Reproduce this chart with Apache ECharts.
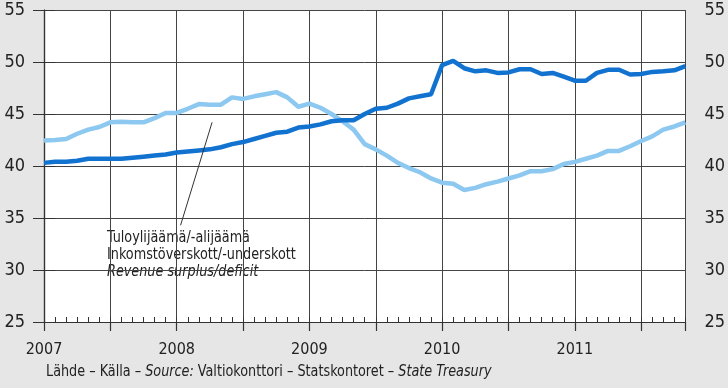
<!DOCTYPE html>
<html><head><meta charset="utf-8">
<script src="https://cdn.jsdelivr.net/npm/echarts@6/dist/echarts.min.js"></script>
<style>html,body{margin:0;padding:0;background:#e6e6e6;}#c{width:728px;height:388px;}</style>
</head><body><div id="c"></div>
<script>
// Month index 0 = Jan 2007 ... 58 = Nov 2011
const yearLabels = ["2007","2008","2009","2010","2011"];
const yTicks = [25,30,35,40,45,50,55];
const revenue = [40.3,40.4,40.4,40.5,40.7,40.7,40.7,40.7,40.8,40.9,41.0,41.1,
  41.3,41.4,41.5,41.6,41.8,42.1,42.3,42.6,42.9,43.2,43.3,43.7,
  43.8,44.0,44.3,44.4,44.4,45.0,45.5,45.6,46.0,46.5,46.7,46.9,
  49.7,50.1,49.4,49.1,49.2,48.95,49.0,49.3,49.3,48.85,48.95,48.6,
  48.2,48.2,48.95,49.25,49.25,48.8,48.85,49.05,49.1,49.2,49.6];
const expenditure = [42.45,42.5,42.6,43.1,43.5,43.75,44.2,44.25,44.2,44.2,44.6,45.1,
  45.1,45.5,45.95,45.9,45.9,46.6,46.45,46.7,46.9,47.1,46.6,45.7,
  46.0,45.6,45.0,44.3,43.5,42.1,41.6,41.0,40.3,39.8,39.4,38.8,
  38.4,38.3,37.7,37.9,38.25,38.5,38.8,39.1,39.5,39.5,39.7,40.2,
  40.4,40.7,41.0,41.45,41.45,41.9,42.4,42.85,43.5,43.8,44.2];
const annotationLines = ["Tuloylijäämä/-alijäämä","Inkomstöverskott/-underskott","Revenue surplus/deficit"];
const pointer = [[12.35,34.3],[15.2,44.2]];

const FONT = '"DejaVu Sans Condensed","Liberation Sans Narrow","Roboto",sans-serif';
const chart = echarts.init(document.getElementById('c'), null, {renderer:'canvas'});
const toPairs = arr => arr.map((v,i)=>[i,v]);
const xMax = revenue.length - 1;

chart.setOption({
  backgroundColor:'#e6e6e6',
  animation:false,
  grid:{left:44,right:37,top:10,bottom:66,show:true,backgroundColor:'#ffffff',borderWidth:0},
  xAxis:[{
    type:'value',min:0,max:xMax,interval:6,
    axisLine:{show:true,lineStyle:{color:'#333',width:1.2}},
    axisTick:{show:true,inside:false,length:9,lineStyle:{color:'#333',width:1.2}},
    splitLine:{show:true,lineStyle:{color:'#444',width:1}},
    axisLabel:{margin:20,color:'#222',fontFamily:FONT,fontSize:16,
      formatter:v=> (v%12===0 && yearLabels[v/12]!==undefined) ? yearLabels[v/12] : ''}
  },{
    type:'value',min:0,max:xMax,interval:1,position:'bottom',
    axisLine:{show:false},
    axisTick:{show:true,inside:true,length:5,lineStyle:{color:'#333',width:1}},
    splitLine:{show:false},axisLabel:{show:false}
  }],
  yAxis:[{
    type:'value',min:25,max:55,interval:5,position:'left',
    axisLine:{show:true,lineStyle:{color:'#333',width:1.2}},
    axisTick:{show:true,length:11,lineStyle:{color:'#333'}},
    splitLine:{show:true,lineStyle:{color:'#444',width:1}},
    axisLabel:{margin:19,color:'#222',fontFamily:FONT,fontSize:18,
      formatter:v=> yTicks.includes(v)? String(v):''}
  },{
    type:'value',min:25,max:55,interval:5,position:'right',
    axisLine:{show:true,lineStyle:{color:'#333',width:1.2}},
    axisTick:{show:true,length:11,lineStyle:{color:'#333'}},
    splitLine:{show:false},
    axisLabel:{margin:19,color:'#222',fontFamily:FONT,fontSize:18,
      formatter:v=> yTicks.includes(v)? String(v):''}
  }],
  series:[{
    type:'line',name:'expenditure',data:toPairs(expenditure),showSymbol:false,
    lineStyle:{color:'#8cc8f0',width:4.5},itemStyle:{color:'#8cc8f0'},z:3
  },{
    type:'line',name:'revenue',data:toPairs(revenue),showSymbol:false,
    lineStyle:{color:'#1272d0',width:4.5},itemStyle:{color:'#1272d0'},z:4,
    markLine:{silent:true,symbol:['none','none'],label:{show:false},
      lineStyle:{color:'#333',width:1,type:'solid'},
      data:[[{coord:pointer[0]},{coord:pointer[1]}]]}
  }],
  graphic:[{
    type:'text',x:107,y:229,scaleX:0.89,silent:true,
    style:{
      text:annotationLines[0]+'\n'+annotationLines[1]+'\n{i|'+annotationLines[2]+'}',
      font:'16px '+FONT,fill:'#222',lineHeight:17,
      rich:{i:{font:'italic 16px '+FONT,fill:'#222',lineHeight:17}}
    }
  },{
    type:'text',x:46,y:364,scaleX:0.89,silent:true,
    style:{
      text:'Lähde – Källa – {i|Source:} Valtiokonttori – Statskontoret – {i|State Treasury}',
      font:'16px '+FONT,fill:'#222',
      rich:{i:{font:'italic 16px '+FONT,fill:'#222'}}
    }
  }]
});
</script></body></html>
